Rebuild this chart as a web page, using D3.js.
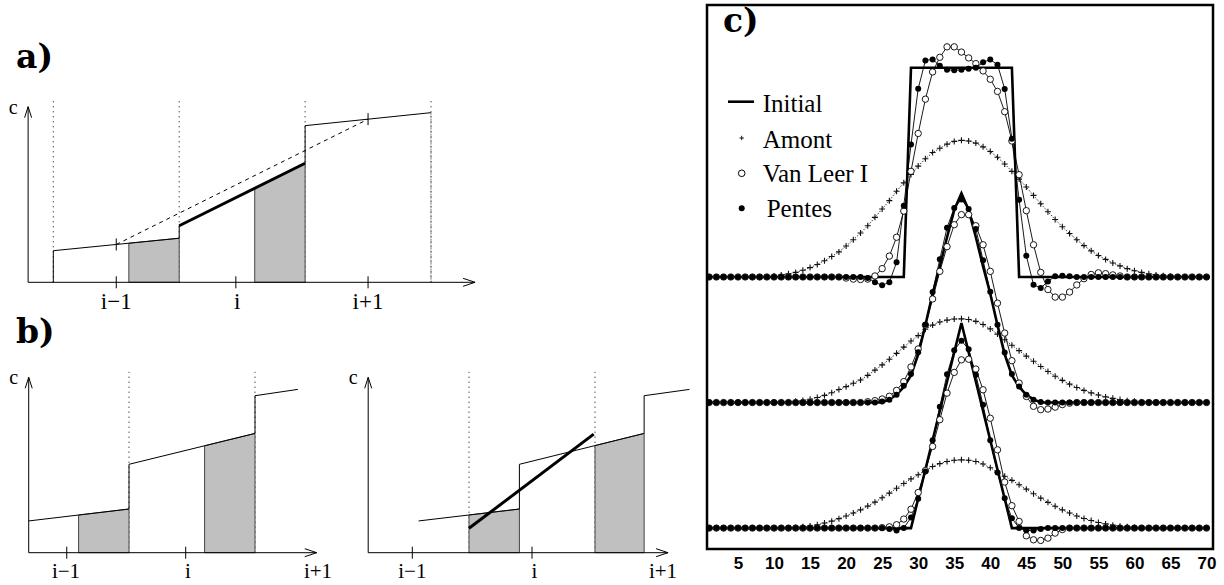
<!DOCTYPE html>
<html>
<head>
<meta charset="utf-8">
<script src="https://cdn.jsdelivr.net/npm/d3@7"></script>
<style>
  body { margin: 0; background: #fff; }
  svg { display: block; }
  .serif { font-family: "Liberation Serif", "Nimbus Roman", "FreeSerif", "DejaVu Serif", serif; }
</style>
</head>
<body>
<div id="chart"></div>
<script>
// ---------- panel a) : piecewise linear cell profile ----------
const aEdges = [0, 1, 2, 3];              // cell boundaries (dotted)
const aAxis = [-0.2, 3.35];               // x axis extent, in cells
const aX0 = [0, 1, 2];                    // segment starts
const aX1 = [1, 2, 3];                    // segment ends
const aC0 = [1.80, 3.22, 8.92];           // c at segment start
const aC1 = [2.51, 6.78, 9.66];           // c at segment end
const aShade = [[0.6, 1, 0], [1.6, 2, 1]]; // from, to, segment
const aTicks = [0.5, 1.45, 2.5];
const aLabelPos = [0.5, 1.46, 2.5];
const aDashed = [[0.5, 2.155], [2.5, 9.29]];
const aCurveTicks = [[0.5, 2.155], [2.5, 9.29]];

// ---------- panel b) left ----------
const bLAxis = [0.204, 2.49];
const bLX0 = [0.204, 1, 2];
const bLX1 = [1, 2, 2.34];
const bC0 = [1.81, 5.04, 8.95];
const bC1 = [2.49, 6.80, 9.31];
const bLShade = [[0.6, 1, 0], [1.6, 2, 1]];
const bLTicks = [0.506, 1.45];
const bLLabelPos = [0.5, 1.468, 2.5];

// ---------- panel b) right ----------
const bRAxis = [0.2, 2.58];
const bRX0 = [0.6, 1.4, 2.39];
const bRX1 = [1.4, 2.39, 2.75];
const bRShade = [[1.0, 1.4, 0], [2.0, 2.39, 1]];
const bRTicks = [0.55, 1.5];
const bRLabelPos = [0.55, 1.52, 2.54];
const bRThick = [[1.0, 1.39], [1.99, 6.76]];

const cellLabels = ['i\u22121', 'i', 'i+1'];

// ---------- panel c) : advection test ----------
const gridX = [1,2,3,4,5,6,7,8,9,10,11,12,13,14,15,16,17,18,19,20,21,22,23,24,25,26,27,28,29,30,
  31,32,33,34,35,36,37,38,39,40,41,42,43,44,45,46,47,48,49,50,51,52,53,54,55,56,57,58,59,60,
  61,62,63,64,65,66,67,68,69,70];
const levels = [1.2, 0.6, 0];             // vertical offset of each test
const ticksC = [5, 10, 15, 20, 25, 30, 35, 40, 45, 50, 55, 60, 65, 70];
const legendNames = ['Initial', 'Amont', 'Van Leer I', 'Pentes'];

// top : square
const initTopX = [1, 28, 29, 43, 44, 70];
const initTopV = [0, 0, 1, 1, 0, 0];
const amontTop = [0,0,0,0,0,0,0,0,0,
  0.005,0.01,0.015,0.022,0.032,0.045,0.06,0.078,0.098,0.12,0.148,0.178,0.21,0.245,0.285,0.325,
  0.365,0.41,0.45,0.49,0.53,0.565,0.595,0.615,0.635,0.648,0.653,0.65,0.64,0.622,0.60,0.572,
  0.54,0.505,0.468,0.43,0.39,0.35,0.312,0.275,0.24,0.208,0.178,0.15,0.125,0.103,0.084,0.067,
  0.053,0.04,0.03,0.022,0.015,0.01,0.006,0.003,
  0,0,0,0,0];
const vlTop = [0,0,0,0,0,0,0,0,0,0,0,0,0,0,0,0,0,0,0,
  -0.005,-0.01,-0.012,-0.01,0.005,0.04,0.1,0.19,0.315,0.505,0.686,0.85,0.98,1.05,1.1,1.1,
  1.075,1.047,1.02,0.985,0.945,0.887,0.79,0.65,0.489,0.317,0.154,0.022,-0.06,-0.096,-0.096,
  -0.072,-0.038,-0.008,0.012,0.02,0.016,0.01,0.005,
  0,0,0,0,0,0,0,0,0,0,0,0];
const ptTop = [0,0,0,0,0,0,0,0,0,0,0,0,0,0,0,0,0,0,0,0,0,0,
  -0.005,-0.025,-0.04,-0.025,0.07,0.34,0.633,0.9,1.035,1.04,1.01,0.99,0.988,0.99,0.995,1.0,
  1.026,1.039,1.015,0.899,0.661,0.369,0.102,-0.037,-0.053,-0.021,0.003,0.006,0.003,
  0,0,0,0,0,0,0,0,0,0,0,0,0,0,0,0,0,0,0];

// middle : smooth peak
const initMidV = [0,0,0,0,0,0,0,0,0,0,0,0,0,0,0,0,0,0,0,0,0,0,0,0,0,
  0.015,0.037,0.075,0.13,0.23,0.37,0.52,0.65,0.79,0.92,1.0,0.92,0.79,0.65,0.52,0.37,0.23,
  0.13,0.075,0.037,0.015,
  0,0,0,0,0,0,0,0,0,0,0,0,0,0,0,0,0,0,0,0,0,0,0,0];
const amontMid = [0,0,0,0,0,0,0,0,0,0,0,
  0.003,0.006,0.01,0.016,0.024,0.034,0.047,0.062,0.076,0.092,0.108,0.13,0.155,0.18,0.207,
  0.235,0.265,0.294,0.32,0.35,0.37,0.385,0.394,0.399,0.40,0.397,0.388,0.373,0.352,0.327,
  0.30,0.274,0.248,0.222,0.197,0.172,0.148,0.126,0.106,0.088,0.072,0.058,0.046,0.036,0.027,
  0.02,0.014,0.009,0.006,0.003,
  0,0,0,0,0,0,0,0,0];
const vlMid = [0,0,0,0,0,0,0,0,0,0,0,0,0,0,0,0,0,0,0,0,0,0,
  0.004,0.009,0.017,0.03,0.058,0.10,0.17,0.256,0.37,0.495,0.627,0.745,0.85,0.898,0.898,0.845,
  0.754,0.627,0.475,0.332,0.2,0.093,0.029,-0.018,-0.034,-0.031,-0.022,-0.01,-0.003,
  0,0,0,0,0,0,0,0,0,0,0,0,0,0,0,0,0,0,0];
const ptMid = [0,0,0,0,0,0,0,0,0,0,0,0,0,0,0,0,0,0,0,0,0,0,0,0,
  0.005,0.013,0.037,0.08,0.136,0.24,0.372,0.528,0.685,0.835,0.93,0.97,0.925,0.83,0.68,0.53,
  0.372,0.239,0.136,0.077,0.037,0.013,0.003,
  0,0,0,0,0,0,0,0,0,0,0,0,0,0,0,0,0,0,0,0,0,0,0];

// bottom : triangle
const initBotX = [1, 29, 36, 43, 70];
const initBotV = [0, 0, 0.98, 0, 0];
const amontBot = [0,0,0,0,0,0,0,0,0,0,0,0,
  0.003,0.006,0.01,0.016,0.024,0.033,0.045,0.058,0.072,0.087,0.105,0.124,0.145,0.167,0.19,
  0.213,0.235,0.255,0.275,0.294,0.308,0.318,0.324,0.326,0.324,0.318,0.306,0.288,0.268,0.248,
  0.228,0.207,0.186,0.164,0.143,0.123,0.104,0.087,0.072,0.058,0.046,0.036,0.027,0.02,0.014,
  0.009,0.006,0.003,
  0,0,0,0,0,0,0,0,0,0];
const vlBot = [0,0,0,0,0,0,0,0,0,0,0,0,0,0,0,0,0,0,0,0,0,0,0,0,
  0.002,0.006,0.016,0.043,0.09,0.17,0.275,0.39,0.518,0.645,0.744,0.804,0.807,0.76,0.661,
  0.525,0.374,0.22,0.107,0.032,-0.037,-0.056,-0.059,-0.048,-0.024,-0.007,
  0,0,0,0,0,0,0,0,0,0,0,0,0,0,0,0,0,0,0,0];
const ptBot = [0,0,0,0,0,0,0,0,0,0,0,0,0,0,0,0,0,0,0,0,0,0,0,0,0,
  -0.005,-0.012,0.0,0.05,0.14,0.27,0.42,0.58,0.735,0.85,0.895,0.855,0.733,0.589,0.42,0.266,
  0.143,0.047,0.0,-0.01,-0.012,-0.005,
  0,0,0,0,0,0,0,0,0,0,0,0,0,0,0,0,0,0,0,0,0,0,0];

const boldSerif = "DejaVu Serif, serif";

const W = 1224, H = 585;
const svg = d3.select('#chart').append('svg')
  .attr('width', W).attr('height', H)
  .attr('viewBox', `0 0 ${W} ${H}`);
svg.append('rect').attr('width', W).attr('height', H).attr('fill', '#fff');

const lineGen = d3.line();

function cellPanel(g, p) {
  const x = p.x, y = p.y;
  const base = y(0);

  // dotted cell edges
  g.selectAll('.edge').data(p.edges).enter().append('line')
    .attr('x1', d => x(d)).attr('x2', d => x(d))
    .attr('y1', base).attr('y2', y(p.edgeTop))
    .attr('stroke', '#000').attr('stroke-width', 1)
    .attr('stroke-dasharray', '1,4');

  // shaded fluxes
  p.shades.forEach(s => {
    const k = s[2];
    const f = t => p.c0[k] + (p.c1[k] - p.c0[k]) * (t - p.x0[k]) / (p.x1[k] - p.x0[k]);
    g.append('path')
      .attr('d', lineGen([[x(s[0]), base], [x(s[0]), y(f(s[0]))], [x(s[1]), y(f(s[1]))], [x(s[1]), base]]) + 'Z')
      .attr('fill', '#c0c0c0').attr('stroke', '#444').attr('stroke-width', 1);
  });

  // profile
  let prof = [];
  if (p.startDrop) prof.push([p.x0[0], 0]);
  p.x0.forEach((d, k) => { prof.push([p.x0[k], p.c0[k]]); prof.push([p.x1[k], p.c1[k]]); });
  g.append('path').attr('d', lineGen(prof.map(d => [x(d[0]), y(d[1])])))
    .attr('fill', 'none').attr('stroke', '#000').attr('stroke-width', 1);
  if (p.endDrop) {
    const k = p.x1.length - 1;
    g.append('line').attr('x1', x(p.x1[k])).attr('x2', x(p.x1[k]))
      .attr('y1', y(p.c1[k])).attr('y2', base)
      .attr('stroke', '#777').attr('stroke-width', 1).attr('stroke-dasharray', '2,1');
  }
  if (p.thick != null) {
    const k = p.thick;
    g.append('line').attr('x1', x(p.x0[k])).attr('y1', y(p.c0[k]))
      .attr('x2', x(p.x1[k])).attr('y2', y(p.c1[k]))
      .attr('stroke', '#000').attr('stroke-width', 3);
  }
  if (p.thickLine) {
    g.append('path').attr('d', lineGen(p.thickLine.map(d => [x(d[0]), y(d[1])])))
      .attr('stroke', '#000').attr('stroke-width', 3);
  }
  if (p.dashed) {
    g.append('path').attr('d', lineGen(p.dashed.map(d => [x(d[0]), y(d[1])])))
      .attr('stroke', '#000').attr('stroke-width', 1).attr('stroke-dasharray', '4,4');
  }
  if (p.curveTicks) {
    g.selectAll('.ct').data(p.curveTicks).enter().append('line')
      .attr('x1', d => x(d[0])).attr('x2', d => x(d[0]))
      .attr('y1', d => y(d[1]) - 6).attr('y2', d => y(d[1]) + 6)
      .attr('stroke', '#000').attr('stroke-width', 1);
  }

  // axes with open arrow heads
  const ax0 = x(p.axis[0]), ax1 = x(p.axis[1]), top = y(10);
  g.append('line').attr('x1', ax0).attr('x2', ax1).attr('y1', base).attr('y2', base)
    .attr('stroke', '#000').attr('stroke-width', 1);
  g.append('line').attr('x1', ax0).attr('x2', ax0).attr('y1', base).attr('y2', top)
    .attr('stroke', '#000').attr('stroke-width', 1);
  g.append('path').attr('d', `M${ax1 - 12},${base - 4}L${ax1},${base}L${ax1 - 12},${base + 4}`)
    .attr('fill', 'none').attr('stroke', '#000').attr('stroke-width', 1);
  g.append('path').attr('d', `M${ax0 - 3.5},${top + 11}L${ax0},${top}L${ax0 + 3.5},${top + 11}`)
    .attr('fill', 'none').attr('stroke', '#000').attr('stroke-width', 1);
  g.append('text').attr('class', 'serif').attr('x', ax0 - 15).attr('y', top + 7)
    .attr('text-anchor', 'middle').style('font-size', '20px')
    .text('c');

  g.selectAll('.tk').data(p.ticks).enter().append('line')
    .attr('x1', d => x(d)).attr('x2', d => x(d))
    .attr('y1', base - 6).attr('y2', base + 6)
    .attr('stroke', '#000').attr('stroke-width', 1);
  g.selectAll('.lb').data(p.labelPos).enter().append('text')
    .attr('class', 'serif')
    .attr('x', d => x(d)).attr('y', p.labelY)
    .attr('text-anchor', 'middle')
    .style('font-size', p.labelSize + 'px')
    .text((d, i) => cellLabels[i]);
}

cellPanel(svg.append('g'), {
  x: d3.scaleLinear().domain([0, 3]).range([53.3, 431]),
  y: d3.scaleLinear().domain([0, 10]).range([282.3, 106.7]),
  axis: aAxis, edges: aEdges, edgeTop: 10.35,
  x0: aX0, x1: aX1, c0: aC0, c1: aC1,
  startDrop: true, endDrop: true, thick: 1,
  shades: aShade, ticks: aTicks, labelPos: aLabelPos, labelSize: 23, labelY: 309,
  dashed: aDashed, curveTicks: aCurveTicks
});

cellPanel(svg.append('g'), {
  x: d3.scaleLinear().domain([1, 2]).range([129, 255]),
  y: d3.scaleLinear().domain([0, 10]).range([552.7, 377.3]),
  axis: bLAxis, edges: [1, 2], edgeTop: 10.31,
  x0: bLX0, x1: bLX1, c0: bC0, c1: bC1,
  shades: bLShade, ticks: bLTicks, labelPos: bLLabelPos, labelSize: 21, labelY: 578
});

cellPanel(svg.append('g'), {
  x: d3.scaleLinear().domain([1, 2]).range([469, 595]),
  y: d3.scaleLinear().domain([0, 10]).range([552.7, 377.3]),
  axis: bRAxis, edges: [1, 2], edgeTop: 10.31,
  x0: bRX0, x1: bRX1, c0: bC0, c1: bC1,
  shades: bRShade, ticks: bRTicks, labelPos: bRLabelPos, labelSize: 21, labelY: 578,
  thickLine: bRThick
});

// panel letters
[['a)', 16, 68], ['b)', 16, 343], ['c)', 723, 32]].forEach(d => {
  svg.append('text').attr('x', d[1]).attr('y', d[2])
    .style('font-family', boldSerif).style('font-weight', 'bold').style('font-size', '33px')
    .text(d[0]);
});

// ---------- panel c ----------
const xC = d3.scaleLinear().domain([0.7, 70.9]).range([707, 1213]);
const yC = d3.scaleLinear().domain([-0.1, 2.5]).range([549, 5]);

svg.append('clipPath').attr('id', 'frame').append('rect')
  .attr('x', 707).attr('y', 5).attr('width', 506).attr('height', 544);
const pc = svg.append('g').attr('clip-path', 'url(#frame)');

const runs = [
  { off: levels[0], amont: amontTop, vl: vlTop, pt: ptTop, ix: initTopX, iv: initTopV },
  { off: levels[1], amont: amontMid, vl: vlMid, pt: ptMid, ix: gridX, iv: initMidV },
  { off: levels[2], amont: amontBot, vl: vlBot, pt: ptBot, ix: initBotX, iv: initBotV }
];
const lineC = d3.line().x(d => xC(d[0])).y(d => yC(d[1]));
const pts = (xsArr, vals, off) => vals.map((v, i) => [xsArr[i], v + off]);
const plus = 'M-3,0H3M0,-3V3';

// Amont: dotted line + crosses
runs.forEach(r => {
  const p = pts(gridX, r.amont, r.off);
  pc.append('path').attr('d', lineC(p)).attr('fill', 'none')
    .attr('stroke', '#333').attr('stroke-width', 1).attr('stroke-dasharray', '1.5,1.5');
  pc.append('g').selectAll('path').data(p).enter().append('path')
    .attr('d', plus).attr('transform', d => `translate(${xC(d[0])},${yC(d[1])})`)
    .attr('stroke', '#111').attr('stroke-width', 1.1).attr('fill', 'none');
});
// scheme lines
runs.forEach(r => {
  pc.append('path').attr('d', lineC(pts(gridX, r.vl, r.off))).attr('fill', 'none')
    .attr('stroke', '#000').attr('stroke-width', 0.9);
  pc.append('path').attr('d', lineC(pts(gridX, r.pt, r.off))).attr('fill', 'none')
    .attr('stroke', '#000').attr('stroke-width', 0.9);
});
// initial condition
runs.forEach(r => {
  pc.append('path').attr('d', lineC(pts(r.ix, r.iv, r.off))).attr('fill', 'none')
    .attr('stroke', '#000').attr('stroke-width', 2.6).attr('stroke-linejoin', 'miter');
});
// Van Leer open circles
runs.forEach(r => {
  pc.append('g').selectAll('circle').data(pts(gridX, r.vl, r.off)).enter().append('circle')
    .attr('cx', d => xC(d[0])).attr('cy', d => yC(d[1])).attr('r', 3.2)
    .attr('fill', '#fff').attr('stroke', '#000').attr('stroke-width', 0.9);
});
// Pentes filled dots
runs.forEach(r => {
  pc.append('g').selectAll('circle').data(pts(gridX, r.pt, r.off)).enter().append('circle')
    .attr('cx', d => xC(d[0])).attr('cy', d => yC(d[1])).attr('r', 3)
    .attr('fill', '#000');
});

// frame
svg.append('rect').attr('x', 707).attr('y', 5).attr('width', 506).attr('height', 544)
  .attr('fill', 'none').attr('stroke', '#000').attr('stroke-width', 2.5);

// x labels
const axC = svg.append('g').attr('transform', 'translate(0,549)')
  .call(d3.axisBottom(xC).tickValues(ticksC).tickSize(0).tickPadding(8));
axC.select('.domain').remove();
axC.selectAll('text')
  .style('font-family', "'Liberation Sans Narrow', 'Liberation Sans', Arial, sans-serif")
  .style('font-weight', 'bold').style('font-size', '17px').attr('fill', '#000');

// legend
const lg = svg.append('g');
const rowY = [112, 148, 182, 217];
lg.append('line').attr('x1', 728).attr('x2', 754).attr('y1', 101.7).attr('y2', 101.7)
  .attr('stroke', '#000').attr('stroke-width', 2.6);
lg.append('path').attr('d', 'M-2.2,0H2.2M0,-2.2V2.2').attr('transform', 'translate(741.7,138)')
  .attr('stroke', '#000').attr('stroke-width', 0.9);
lg.append('circle').attr('cx', 741.7).attr('cy', 173.3).attr('r', 3.3)
  .attr('fill', '#fff').attr('stroke', '#000').attr('stroke-width', 1);
lg.append('circle').attr('cx', 741.7).attr('cy', 208.3).attr('r', 3).attr('fill', '#000');
lg.selectAll('text').data(legendNames).enter().append('text')
  .attr('class', 'serif')
  .attr('x', (d, i) => i === 3 ? 766.7 : 762.7).attr('y', (d, i) => rowY[i])
  .style('font-size', '25px')
  .text(d => d);
</script>
</body>
</html>
